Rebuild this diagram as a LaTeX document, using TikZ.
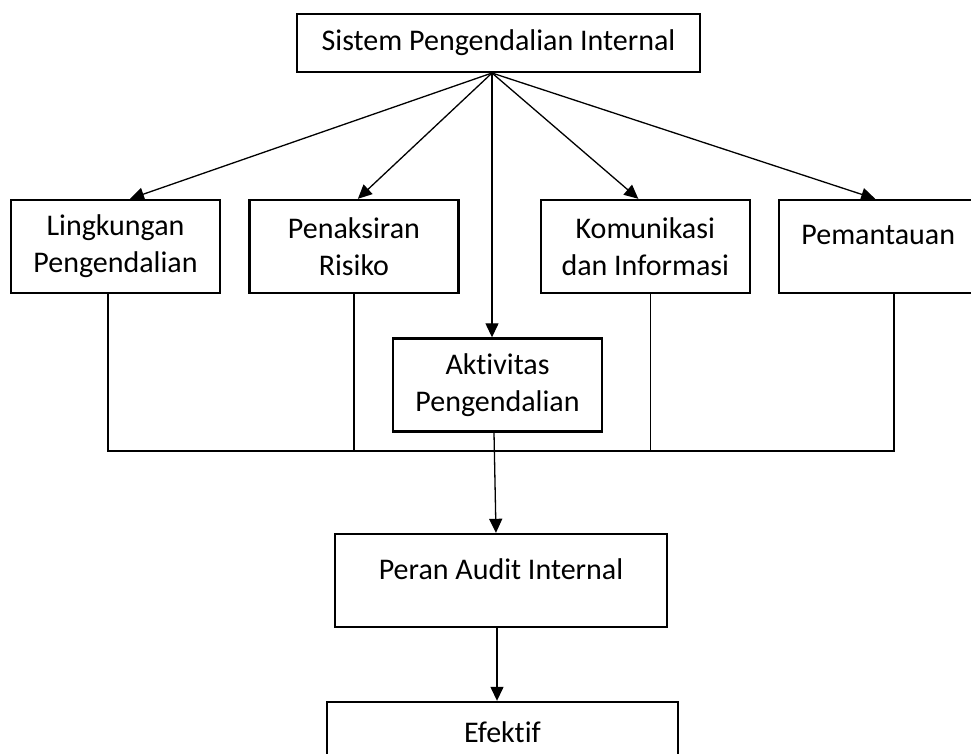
\documentclass[tikz,border=0pt]{standalone}
\usepackage{fontspec}
\setmainfont{Carlito}[Ligatures=NoCommon]
\usetikzlibrary{arrows.meta, positioning, calc}

\begin{document}
\begin{tikzpicture}[x=1pt,y=-1pt,
                    box/.style={rectangle,draw,line width=2.4pt,minimum width=209pt,minimum height=93pt,
                                align=center,font=\fontsize{30}{37}\selectfont,inner sep=0pt},
                    conn/.style={-,line width=1.3pt},
                    arrow/.style={-{Triangle[length=14pt,width=13pt]},line width=1.3pt}]
        \useasboundingbox (0,0) rectangle (971,753);
        \clip (0,0) rectangle (971,753);

        \node[box,minimum width=403pt,minimum height=58pt] (sistem) at (498.5,43) {Sistem Pengendalian Internal};
        \coordinate (apex) at (492,73);

        \node[box] (lingkungan) at (115.5,246.5) {Lingkungan\\Pengendalian};
        \node[box] (penaksiran) [right=27pt of lingkungan] {Penaksiran\\Risiko};
        \node[box] (komunikasi) [right=80pt of penaksiran] {Komunikasi\\dan Informasi};
        \node[box,minimum width=220pt,text height=20pt,text depth=25pt] (pemantauan) [right=27pt of komunikasi] {Pemantauan\hspace{22pt}};
        \node[box] (aktivitas) at (497.5,385) {Aktivitas\\Pengendalian};
        \node[box,minimum width=332pt,text height=20pt,text depth=23pt] (peran) at (501,580.5) {Peran Audit Internal};
        \node[box,minimum width=351pt,text height=20pt,text depth=33pt] (efektif) at (502.5,748.5) {Efektif};

        % cabang dari sistem
        \draw[arrow] (apex) -- ([xshift=14.5pt]lingkungan.north);
        \draw[arrow] (apex) -- ([xshift=4pt]penaksiran.north);
        \draw[arrow] (apex) -- (apex |- aktivitas.north);
        \draw[arrow] (apex) -- ([xshift=-7pt]komunikasi.north);
        \draw[arrow] (apex) -- ([xshift=-14pt]pemantauan.north);

        % garis penghubung bawah
        \coordinate (busL) at (108,451);
        \coordinate (busR) at (894,451);
        \draw[conn] (lingkungan.south -| busL) -- (busL) -- (busR) -- (pemantauan.south -| busR);
        \draw[conn] (penaksiran.south) -- (penaksiran.south |- busL);
        \draw[conn] ([xshift=5pt]komunikasi.south) -- ++(0,158);

        \draw[arrow] ([xshift=-3.5pt]aktivitas.south) -- ([xshift=-5pt]peran.north);
        \draw[arrow] ([xshift=-4pt]peran.south) -- ([xshift=-5.5pt]efektif.north);
\end{tikzpicture}
\end{document}
